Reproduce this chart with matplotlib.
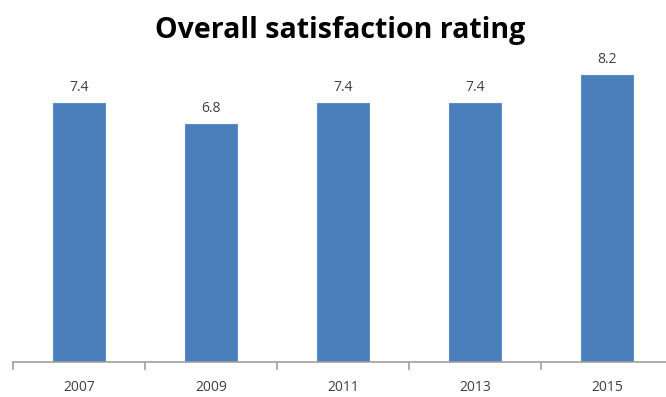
import matplotlib
matplotlib.use('Agg')
from matplotlib import pyplot as plt

years = ['2007', '2009', '2011', '2013', '2015']
ratings = [7.4, 6.8, 7.4, 7.4, 8.2]

plt.rcParams['font.family'] = ['Open Sans', 'DejaVu Sans']

fig = plt.figure(figsize=(6.66, 3.97), dpi=100)
ax = fig.add_axes([13 / 666, 35 / 397, 660 / 666, 315 / 397])

x = range(len(years))
bars = ax.bar(x, ratings, width=0.395, color='#4A7EBB', edgecolor='#5B8FCB', linewidth=0.8)
for b, v in zip(bars, ratings):
    ax.text(b.get_x() + b.get_width() / 2, v + 0.22, f'{v:.1f}', ha='center', va='bottom',
            fontsize=10, color='#404040')

ax.set_xlim(-0.5, len(years) - 0.5)
ax.set_ylim(0, 9)
ax.set_xticks(list(x))
ax.set_xticklabels(years, fontsize=10, color='#404040')
ax.tick_params(axis='x', which='major', length=0, pad=13)
ax.set_xticks([i - 0.5 for i in range(len(years) + 1)], minor=True)
ax.tick_params(axis='x', which='minor', length=6, color='#A0A0A0', width=1.2)
ax.set_yticks([])
for s in ['top', 'right', 'left']:
    ax.spines[s].set_visible(False)
ax.spines['bottom'].set_color('#A0A0A0')
ax.spines['bottom'].set_linewidth(1.2)

fig.text(0.511, 0.922, 'Overall satisfaction rating', ha='center', va='center',
         fontsize=20.5, fontweight='bold', color='black')

fig.savefig('out.png', dpi=100)
